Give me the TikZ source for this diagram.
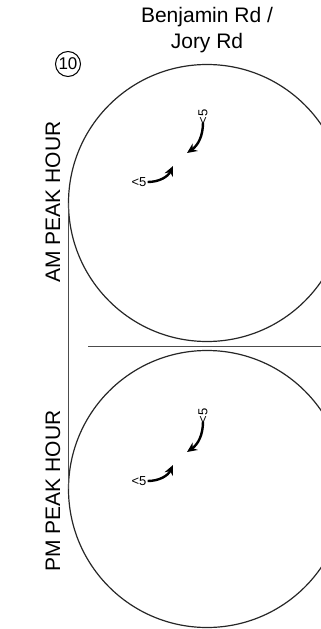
\documentclass[tikz,border=0pt]{standalone}
\usepackage{fontspec}
\setmainfont{Liberation Sans}
\usetikzlibrary{arrows.meta, positioning}
\tikzset{
  peakcircle/.style={circle, draw=black!85, line width=1.2pt, minimum size=277pt, inner sep=0pt},
  title/.style={align=center, font=\fontsize{21}{26}\selectfont},
  period/.style={rotate=90, font=\fontsize{21}{24}\selectfont},
  idtag/.style={circle, draw, line width=1pt, minimum size=25pt, inner sep=0pt, font=\fontsize{17}{18}\selectfont},
  vol/.style={inner sep=1pt, font=\fontsize{13}{14}\selectfont},
  volv/.style={vol, rotate=90},
  turn/.style={-{Stealth[length=10pt, width=9pt]}, line width=2.4pt},
  divider/.style={draw=black!70, line width=0.7pt},
}

\begin{document}
\begin{tikzpicture}[x=1pt, y=-1pt]
  \useasboundingbox (0,0) rectangle (321,629);
  \clip (0,0) rectangle (321,629);

  % intersection name and id
  \node[title] (name) at (207,30) {Benjamin Rd /\\Jory Rd};
  \node[idtag] (id) at (68,64) {10};

  % the two periods
  \node[peakcircle] (am) at (207,203) {};
  \node[peakcircle] (pm) at (207,489) {};
  \node[period] (amlab) at (53,202) {AM PEAK HOUR};
  \node[period] (pmlab) at (53,491) {PM PEAK HOUR};

  \draw[divider] (88,346) -- (321,346);
  \draw[divider] (am.west) -- (pm.west);

  % AM volumes
  \node[volv] (amsb) at (203,117) {<5};
  \node[vol] (amwb) at (139,182) {<5};
  \coordinate (amsbend) at (187,153);
  \coordinate (amwbend) at (173,166);
  \draw[turn] (amsb.west) ++(0,-3) to[out=-90, in=35] (amsbend);
  \draw[turn] (amwb.east) to[out=0, in=-115] (amwbend);

  % PM volumes
  \node[volv] (pmsb) at (203,416) {<5};
  \node[vol] (pmwb) at (139,481) {<5};
  \coordinate (pmsbend) at (187,452);
  \coordinate (pmwbend) at (173,465);
  \draw[turn] (pmsb.west) ++(0,-3) to[out=-90, in=35] (pmsbend);
  \draw[turn] (pmwb.east) to[out=0, in=-115] (pmwbend);
\end{tikzpicture}
\end{document}
